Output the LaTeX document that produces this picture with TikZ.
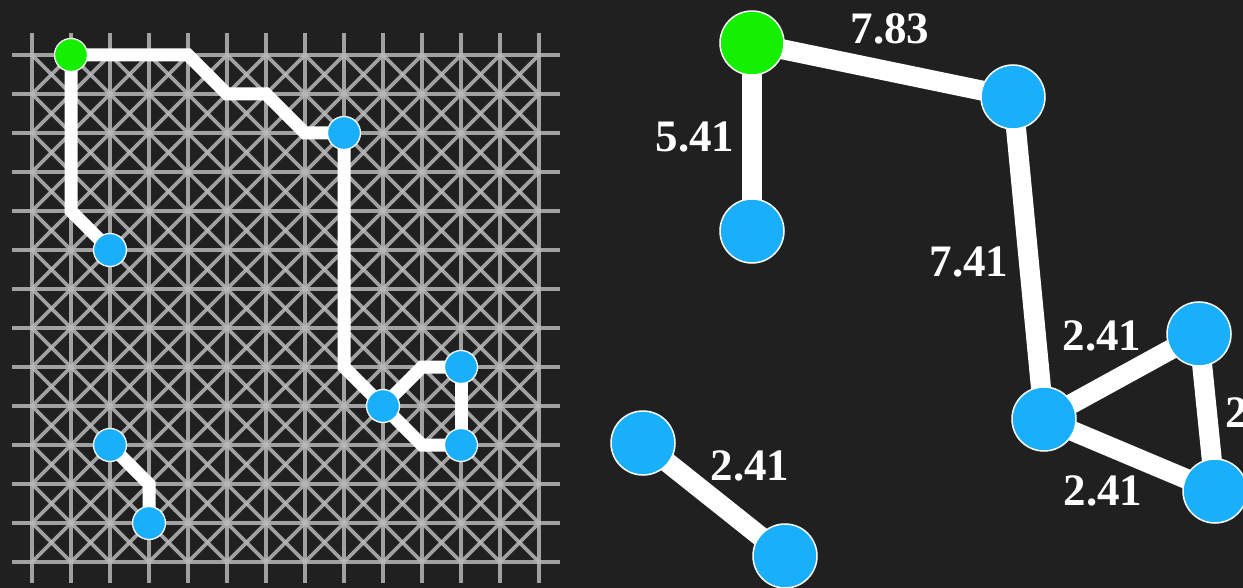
\documentclass[tikz,border=0pt]{standalone}
\usepackage{fontspec}
\setmainfont{Liberation Serif}
\pgfdeclarelayer{back}
\pgfdeclarelayer{edges}
\pgfsetlayers{back,edges,main}
\definecolor{bgc}{HTML}{202020}
\definecolor{gnode}{HTML}{14F000}
\definecolor{bnode}{HTML}{1AAFFA}
\definecolor{gridc}{HTML}{B8B8B8}
\tikzset{
  gridline/.style={draw=gridc, draw opacity=0.85, line width=3.8pt},
  lnode/.style={circle, draw=white, line width=1.3pt, minimum size=33pt, inner sep=0pt},
  rnode/.style={circle, draw=white, line width=1.5pt, minimum size=64pt, inner sep=0pt},
  lpath/.style={draw=white, line width=13pt, line join=miter},
  redge/.style={draw=white, line width=20pt},
  wlabel/.style={text=white, font=\bfseries\fontsize{45}{45}\selectfont, inner sep=0pt}
}
\begin{document}
\begin{tikzpicture}[x=1pt,y=-1pt]
\useasboundingbox (0,0) rectangle (1243,588);
\clip (0,0) rectangle (1243,588);
\begin{pgfonlayer}{back}
\fill[bgc] (0,0) rectangle (1243,588);
\foreach \i in {0,...,13}{
  \draw[gridline] ({32+39*\i},33) -- ({32+39*\i},583);
  \draw[gridline] (12,{55+39*\i}) -- (560,{55+39*\i});
}
\foreach \i in {0,...,12}{
  \foreach \j in {0,...,12}{
    \draw[gridline] ({32+39*\i},{55+39*\j}) -- ({71+39*\i},{94+39*\j});
    \draw[gridline] ({71+39*\i},{55+39*\j}) -- ({32+39*\i},{94+39*\j});
  }
}
\end{pgfonlayer}

% left panel nodes
\node[lnode, fill=gnode] (lg) at (71,55) {};
\node[lnode, fill=bnode] (la) at (110,250) {};
\node[lnode, fill=bnode] (lb) at (344,133) {};
\node[lnode, fill=bnode] (lc) at (383,406) {};
\node[lnode, fill=bnode] (ld) at (461,367) {};
\node[lnode, fill=bnode] (le) at (461,445) {};
\node[lnode, fill=bnode] (lf) at (110,445) {};
\node[lnode, fill=bnode] (lh) at (149,523) {};

% right panel nodes
\node[rnode, fill=gnode] (rg) at (752,43) {};
\node[rnode, fill=bnode] (ra) at (752,231) {};
\node[rnode, fill=bnode] (rb) at (1013,97) {};
\node[rnode, fill=bnode] (rc) at (1044,419) {};
\node[rnode, fill=bnode] (rd) at (1199,334) {};
\node[rnode, fill=bnode] (re) at (1215,491) {};
\node[rnode, fill=bnode] (rf) at (643,443) {};
\node[rnode, fill=bnode] (rh) at (785,556) {};

\begin{pgfonlayer}{edges}
\draw[lpath] (lg.center) -- (188,55) -- (227,94) -- (266,94) -- (305,133) -- (lb.center);
\draw[lpath] (lg.center) -- (71,211) -- (la.center);
\draw[lpath] (lb.center) -- (344,367) -- (lc.center);
\draw[lpath] (lc.center) -- (422,367) -- (ld.center);
\draw[lpath] (lc.center) -- (422,445) -- (le.center);
\draw[lpath] (ld.center) -- (le.center);
\draw[lpath] (lf.center) -- (149,484) -- (lh.center);

\draw[redge] (rg.center) -- (rb.center);
\draw[redge] (rg.center) -- (ra.center);
\draw[redge] (rb.center) -- (rc.center);
\draw[redge] (rc.center) -- (rd.center);
\draw[redge] (rc.center) -- (re.center);
\draw[redge] (rd.center) -- (re.center);
\draw[redge] (rf.center) -- (rh.center);
\end{pgfonlayer}

% labels
\node[wlabel] (t1) at (890,29) {7.83};
\node[wlabel] (t2) at (695,137) {5.41};
\node[wlabel] (t3) at (969,262) {7.41};
\node[wlabel] (t4) at (1102,336) {2.41};
\node[wlabel] (t5) at (1103,491) {2.41};
\node[wlabel] (t6) at (1265,413) {2.41};
\node[wlabel] (t7) at (750,466) {2.41};
\end{tikzpicture}
\end{document}
